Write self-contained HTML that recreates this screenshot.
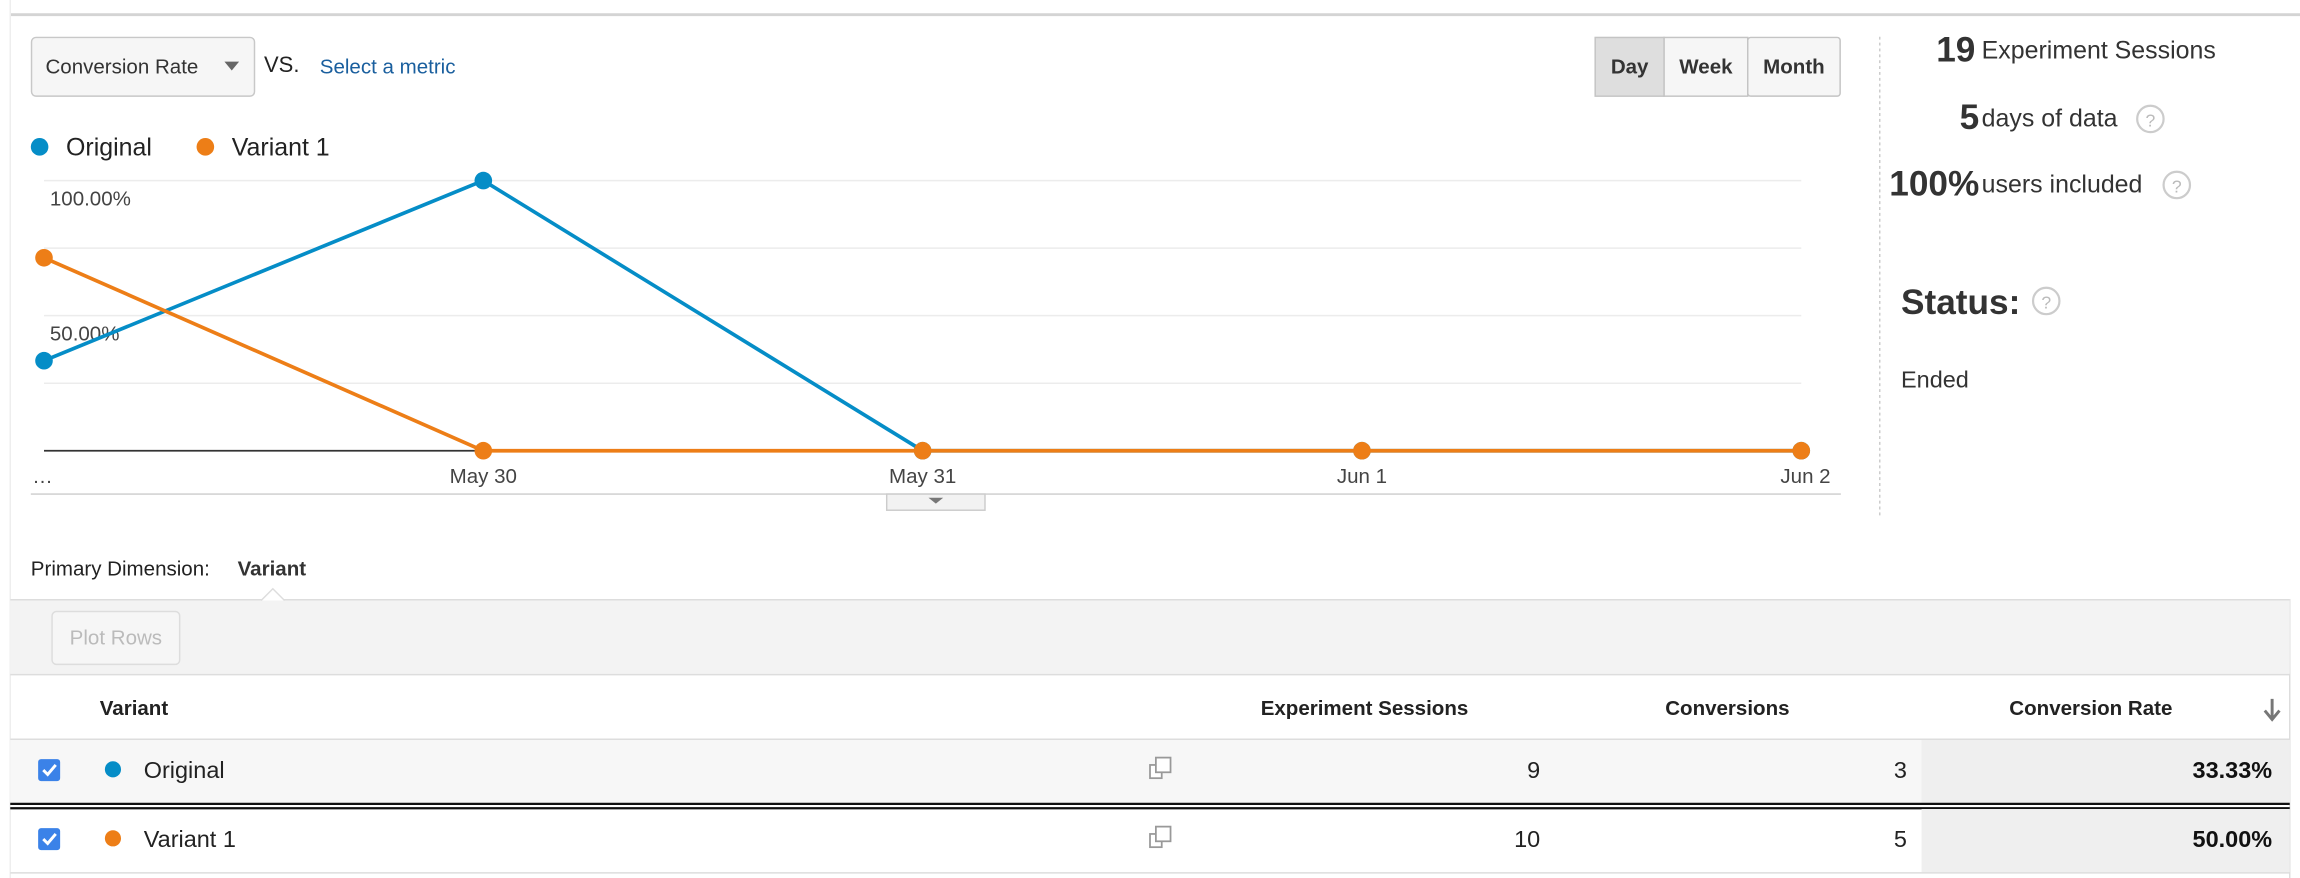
<!DOCTYPE html>
<html><head><meta charset="utf-8"><style>
html,body{margin:0;padding:0;background:#fff;width:2300px;height:878px;overflow:hidden}
svg{display:block;font-family:"Liberation Sans",Arial,sans-serif}
</style></head><body>
<svg id="s" width="2300" height="878" viewBox="0 0 1568 598" preserveAspectRatio="none">
<rect x="0" y="0" width="1568" height="598" fill="#fff"/>
<line x1="7" y1="10" x2="1568" y2="10" stroke="#d4d4d4" stroke-width="2"/>
<line x1="7" y1="0" x2="7" y2="598" stroke="#eee" stroke-width="1"/>
<line x1="1561" y1="408" x2="1561" y2="598" stroke="#ddd" stroke-width="1"/>
<g>
<rect x="21.5" y="25.5" width="152" height="40" rx="3" fill="#f6f6f6" stroke="#c8c8c8"/>
<text x="31" y="50" font-size="14" fill="#333">Conversion Rate</text>
<path d="M153 42 L163 42 L158 48 Z" fill="#666"/>
</g>
<text x="180" y="49" font-size="15" fill="#222">VS.</text>
<text x="218" y="50" font-size="14" fill="#1a5f9e">Select a metric</text>
<g><rect x="1087.5" y="25.5" width="47" height="40" fill="#dedede" stroke="#c4c4c4"/><text x="1111" y="50" font-size="14" font-weight="bold" text-anchor="middle" fill="#333">Day</text></g>
<g><rect x="1134.5" y="25.5" width="57" height="40" fill="#f6f6f6" stroke="#c4c4c4"/><text x="1163" y="50" font-size="14" font-weight="bold" text-anchor="middle" fill="#333">Week</text></g>
<g><rect x="1191.5" y="25.5" width="63" height="40" rx="2" fill="#f6f6f6" stroke="#c4c4c4"/><text x="1223" y="50" font-size="14" font-weight="bold" text-anchor="middle" fill="#333">Month</text></g>
<g><circle cx="27" cy="100" r="6" fill="#058dc7"/><text x="45" y="106" font-size="17" fill="#222">Original</text></g>
<g><circle cx="140" cy="100" r="6" fill="#ed7e17"/><text x="158" y="106" font-size="17" fill="#222">Variant 1</text></g>
<g id="grid"></g>
<g id="plot"></g>
<line x1="21" y1="336.5" x2="1255" y2="336.5" stroke="#ccc"/>
<g><rect x="604.5" y="336.5" width="67" height="11" fill="#f2f2f2" stroke="#ccc"/><path d="M633 339 L643 339 L638 343 Z" fill="#777"/></g>
<line x1="1281.5" y1="25" x2="1281.5" y2="352" stroke="#ccc" stroke-dasharray="2,2"/>
<g><text x="1320" y="42" font-size="24" font-weight="bold" fill="#333">19</text><text x="1351" y="40" font-size="17" fill="#333">Experiment Sessions</text></g>
<g><text x="1336" y="88" font-size="24" font-weight="bold" fill="#333">5</text><text x="1351" y="86" font-size="17" fill="#333">days of data</text><circle cx="1466" cy="81" r="9" fill="none" stroke="#ccc" stroke-width="1.5"/><text x="1466" y="86" font-size="12" text-anchor="middle" fill="#bbb">?</text></g>
<g><text x="1288" y="133" font-size="24" font-weight="bold" fill="#333">100%</text><text x="1351" y="131" font-size="17" fill="#333">users included</text><circle cx="1484" cy="126" r="9" fill="none" stroke="#ccc" stroke-width="1.5"/><text x="1484" y="131" font-size="12" text-anchor="middle" fill="#bbb">?</text></g>
<g><text x="1296" y="214" font-size="24" font-weight="bold" fill="#333">Status:</text><circle cx="1395" cy="205" r="9" fill="none" stroke="#ccc" stroke-width="1.5"/><text x="1395" y="210" font-size="12" text-anchor="middle" fill="#bbb">?</text></g>
<text x="1296" y="264" font-size="16" fill="#333">Ended</text>
<text x="21" y="392" font-size="14" fill="#222">Primary Dimension:</text>
<text x="162" y="392" font-size="14" font-weight="bold" fill="#333">Variant</text>
<rect x="7" y="408" width="1554" height="51" fill="#f3f3f3"/>
<line x1="7" y1="408.5" x2="1561" y2="408.5" stroke="#ddd"/>
<path d="M178 409 L186 401 L194 409" fill="#fff" stroke="#ddd"/>
<g><rect x="35.5" y="416.5" width="87" height="36" rx="3" fill="#f6f6f6" stroke="#ddd"/><text x="79" y="439" font-size="14" text-anchor="middle" fill="#bbb">Plot Rows</text></g>
<line x1="7" y1="459.5" x2="1561" y2="459.5" stroke="#ddd"/>
<g font-size="14" font-weight="bold" fill="#222">
<text x="68" y="487">Variant</text>
<text x="1001" y="487" text-anchor="end">Experiment Sessions</text>
<text x="1220" y="487" text-anchor="end">Conversions</text>
<text x="1481" y="487" text-anchor="end">Conversion Rate</text>
<path d="M1549 476 L1549 489 M1544 484 L1549 490 L1554 484" stroke="#777" stroke-width="2" fill="none"/>
</g>
<line x1="7" y1="503.5" x2="1561" y2="503.5" stroke="#ddd"/>
<g>
<rect x="7" y="504" width="1554" height="43" fill="#f7f7f7"/><rect x="1310" y="504" width="251" height="43" fill="#efefef"/>
<rect x="26" y="517" width="15" height="15" rx="2" fill="#3b82e8"/><path d="M29.5 524.5 L32.5 527.5 L38 521" stroke="#fff" stroke-width="2" fill="none"/>
<circle cx="77" cy="524" r="5.5" fill="#058dc7"/><text x="98" y="530" font-size="16" fill="#222">Original</text>
<g stroke="#999" fill="#fff" stroke-width="1.2"><rect x="784" y="521" width="8" height="9"/><rect x="788" y="516" width="10" height="10"/></g>
<text x="1050" y="530" font-size="16" text-anchor="end" fill="#222">9</text>
<text x="1300" y="530" font-size="16" text-anchor="end" fill="#222">3</text>
<text x="1549" y="530" font-size="16" font-weight="bold" text-anchor="end" fill="#111">33.33%</text>
</g>
<line x1="7" y1="547.5" x2="1561" y2="547.5" stroke="#111" stroke-width="1.5"/>
<line x1="7" y1="550.5" x2="1561" y2="550.5" stroke="#111" stroke-width="1.5"/>
<g>
<rect x="1310" y="551" width="251" height="43" fill="#efefef"/>
<rect x="26" y="564" width="15" height="15" rx="2" fill="#3b82e8"/><path d="M29.5 571.5 L32.5 574.5 L38 568" stroke="#fff" stroke-width="2" fill="none"/>
<circle cx="77" cy="571" r="5.5" fill="#ed7e17"/><text x="98" y="577" font-size="16" fill="#222">Variant 1</text>
<g stroke="#999" fill="#fff" stroke-width="1.2"><rect x="784" y="568" width="8" height="9"/><rect x="788" y="563" width="10" height="10"/></g>
<text x="1050" y="577" font-size="16" text-anchor="end" fill="#222">10</text>
<text x="1300" y="577" font-size="16" text-anchor="end" fill="#222">5</text>
<text x="1549" y="577" font-size="16" font-weight="bold" text-anchor="end" fill="#111">50.00%</text>
</g>
<line x1="7" y1="594.5" x2="1561" y2="594.5" stroke="#ddd"/>
</svg>
<script>
const categories=["…","May 30","May 31","Jun 1","Jun 2"];
const originalValues=[33.33,100,0,0,0];
const variantValues=[71.43,0,0,0,0];
const yTicks=[50,100];
const yTickLabels=["50.00%","100.00%"];
const NS="http://www.w3.org/2000/svg";
const X0=30,X1=1228,Y0=307,YTOP=123;
function xs(i){return X0+i*(X1-X0)/(categories.length-1);}
function ys(v){return Y0-v/100*(Y0-YTOP);}
function mk(t,a,p){const e=document.createElementNS(NS,t);for(const k in a)e.setAttribute(k,a[k]);p.appendChild(e);return e;}
const grid=document.getElementById('grid'),plot=document.getElementById('plot');
[25,50,75,100].forEach(v=>{const l=mk('line',{x1:30,x2:1228,y1:ys(v),y2:ys(v),stroke:'#ececec'},grid);

});
const ax=mk('line',{x1:30,x2:1228,y1:Y0,y2:Y0,stroke:'#333','stroke-width':1.2},grid);


yTicks.forEach((v,i)=>{const t=mk('text',{x:34,y:ys(v)+17,'font-size':14,fill:'#444'},grid);t.textContent=yTickLabels[i];

});
categories.forEach((c,i)=>{const anchor=i===0?'start':(i===categories.length-1?'end':'middle');
const t=mk('text',{x:i===0?22:(i===categories.length-1?1248:xs(i)),y:329,'font-size':14,fill:'#444','text-anchor':anchor},grid);t.textContent=c;

});
function series(vals,color,name){
const pts=vals.map((v,i)=>xs(i)+','+ys(v)).join(' ');
const pl=mk('polyline',{points:pts,fill:'none',stroke:color,'stroke-width':2.5},plot);


vals.forEach((v,i)=>{const c=mk('circle',{cx:xs(i),cy:ys(v),r:6,fill:color},plot);

});
}
series(originalValues,'#058dc7','original');
series(variantValues,'#ed7e17','variant-1');
</script>
</body></html>
